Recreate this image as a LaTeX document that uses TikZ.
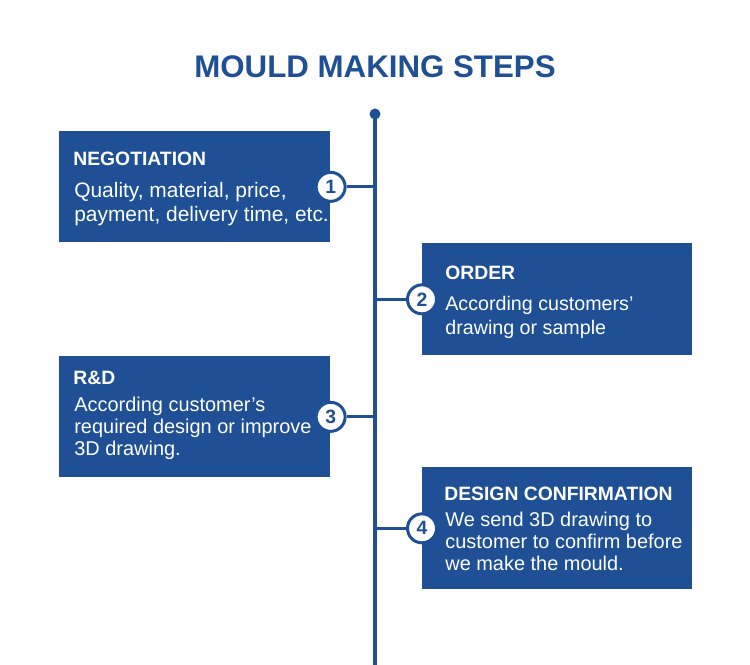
\documentclass[tikz,border=0pt]{standalone}
\usepackage{fontspec}
\setmainfont{Liberation Sans}
\usetikzlibrary{positioning}
\definecolor{mouldblue}{HTML}{1F4F94}
\tikzset{
  stepbox/.style={fill=mouldblue, anchor=north west, inner sep=0pt},
  boxhead/.style={anchor=base west, text=white, inner sep=0pt, font=\fontsize{11}{13}\selectfont\bfseries},
  boxtext/.style={anchor=base west, text=white, inner sep=0pt, align=left},
  stepnum/.style={circle, draw=mouldblue, fill=white, line width=1.7pt, minimum size=0.58cm, inner sep=0pt, text=mouldblue, font=\fontsize{11}{13}\selectfont\bfseries},
  link/.style={draw=mouldblue, line width=1.7pt}
}

\begin{document}
\begin{tikzpicture}[x=0.02cm, y=-0.02cm]
\useasboundingbox (0,0) rectangle (750,665);

\node[text=mouldblue, font=\fontsize{17.8}{20}\selectfont\bfseries, anchor=base, inner sep=0pt] (title) at (375,78) {MOULD MAKING STEPS};

\coordinate (top) at (375,114);
\coordinate (bottom) at (375,665);
\draw[mouldblue, line width=2.5pt] (top) -- (bottom);
\fill[mouldblue] (top) circle (5.5);

\node[stepbox, minimum width=5.42cm, minimum height=2.22cm] (neg) at (59,131) {};
\node[boxhead] (neghead) at (73,166) {NEGOTIATION};
\node[boxtext, font=\fontsize{11.9}{14.2}\selectfont] (negtext) at (74,222) {Quality, material, price,\\payment, delivery time, etc.};
\node[stepnum] (n1) at (neg.east) {1};
\draw[link] (n1) -- (n1 -| top);

\node[stepbox, minimum width=5.40cm, minimum height=2.24cm] (ord) at (422,243) {};
\node[boxhead] (ordhead) at (445,280) {ORDER};
\node[boxtext, font=\fontsize{11.2}{14.2}\selectfont] (ordtext) at (445,335) {According customers’\\drawing or sample};
\node[stepnum] (n2) at (ord.west) {2};
\draw[link] (n2) -- (n2 -| top);

\node[stepbox, minimum width=5.42cm, minimum height=2.42cm] (rnd) at (59,356) {};
\node[boxhead] (rndhead) at (73,384) {R\&D};
\node[boxtext, font=\fontsize{11.35}{12.4}\selectfont] (rndtext) at (74,455) {According customer’s\\required design or improve\\3D drawing.};
\node[stepnum] (n3) at (rnd.east) {3};
\draw[link] (n3) -- (n3 -| top);

\node[stepbox, minimum width=5.40cm, minimum height=2.44cm] (des) at (422,467) {};
\node[boxhead] (deshead) at (444,500) {DESIGN CONFIRMATION};
\node[boxtext, font=\fontsize{11.35}{12.3}\selectfont] (destext) at (445,570) {We send 3D drawing to\\customer to confirm before\\we make the mould.};
\node[stepnum] (n4) at (des.west) {4};
\draw[link] (n4) -- (n4 -| top);
\end{tikzpicture}
\end{document}
